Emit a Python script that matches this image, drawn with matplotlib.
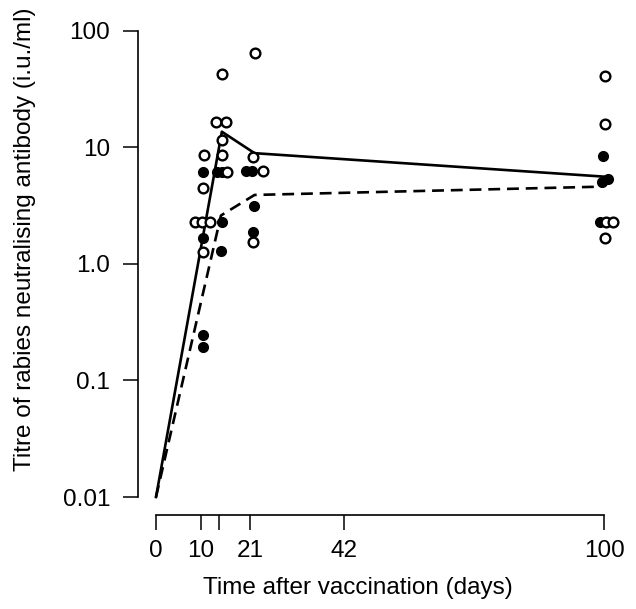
import matplotlib
matplotlib.use("Agg")
from matplotlib import pyplot as plt
import numpy as np

plt.rcParams['font.family'] = ['Liberation Sans', 'DejaVu Sans']

# -- mean titres (lines)
solid_days = [0, 14.7, 22, 100]
solid_vals = [0.01, 13.6, 8.9, 5.6]
dashed_days = [0, 14.5, 22, 100]
dashed_vals = [0.01, 2.6, 3.9, 4.6]

# -- individual titres, open circles
open_days = [22.1, 14.8, 13.4, 15.6, 14.8, 10.8, 14.8, 21.7, 15.8, 23.8, 10.6,
             8.7, 10.3, 12.0, 10.6, 21.7,
             100.3, 100.3, 100.5, 102.0, 100.3]
open_vals = [64, 42.5, 16.4, 16.4, 11.6, 8.6, 8.6, 8.3, 6.1, 6.2, 4.45,
             2.3, 2.3, 2.3, 1.26, 1.55,
             40.8, 15.7, 2.3, 2.3, 1.66]

# -- individual titres, filled circles
filled_days = [10.6, 13.7, 14.7, 20.0, 21.5, 21.9, 14.7, 10.4, 14.5, 21.7, 10.6, 10.6,
               99.8, 99.5, 100.8, 99.0]
filled_vals = [6.1, 6.1, 6.1, 6.3, 6.3, 3.16, 2.3, 1.66, 1.3, 1.87, 0.245, 0.195,
               8.4, 5.0, 5.3, 2.3]

x_ticks = [0, 10, 14, 21, 42, 100]
x_labels = ['0', '10', '', '21', '42', '100']
y_ticks = [0.01, 0.1, 1, 10, 100]
y_labels = ['0.01', '0.1', '1.0', '10', '100']

fig = plt.figure(figsize=(6.36, 6.09), dpi=100)
ax = fig.add_axes([156/636, 1-497/609, 448/636, 466.3/609])

ax.plot(solid_days, solid_vals, color='black', lw=1.9, clip_on=False, zorder=2)
ax.plot(dashed_days, dashed_vals, color='black', lw=1.9, ls=(0, (4.5, 2.6)), clip_on=False, zorder=2)

ax.plot(filled_days, filled_vals, 'o', ms=7, color='black', clip_on=False, zorder=3)
ax.plot(open_days, open_vals, 'o', ms=7, mfc='white', mec='black', mew=1.7, clip_on=False, zorder=4)

ax.set_yscale('log')
ax.set_xlim(0, 100)
ax.set_ylim(0.01, 100)
ax.set_xticks(x_ticks)
ax.set_xticklabels(x_labels)
ax.set_yticks(y_ticks)
ax.set_yticklabels(y_labels)
ax.minorticks_off()

ax.spines['top'].set_visible(False)
ax.spines['right'].set_visible(False)
ax.spines['left'].set_position(('outward', 13))
ax.spines['bottom'].set_position(('outward', 13))
for s in ['left', 'bottom']:
    ax.spines[s].set_linewidth(1.2)
ax.tick_params(axis='both', length=11, width=1.1, labelsize=17.5)
ax.tick_params(axis='x', pad=7)
ax.tick_params(axis='y', pad=9)

fig.text(25/636, 1-239/609, 'Titre of rabies neutralising antibody (i.u./ml)',
         rotation=90, ha='center', va='center', fontsize=17.5)
fig.text(358/636, 1-588/609, 'Time after vaccination (days)',
         ha='center', va='center', fontsize=17.5)

fig.savefig('out.png', dpi=100)
